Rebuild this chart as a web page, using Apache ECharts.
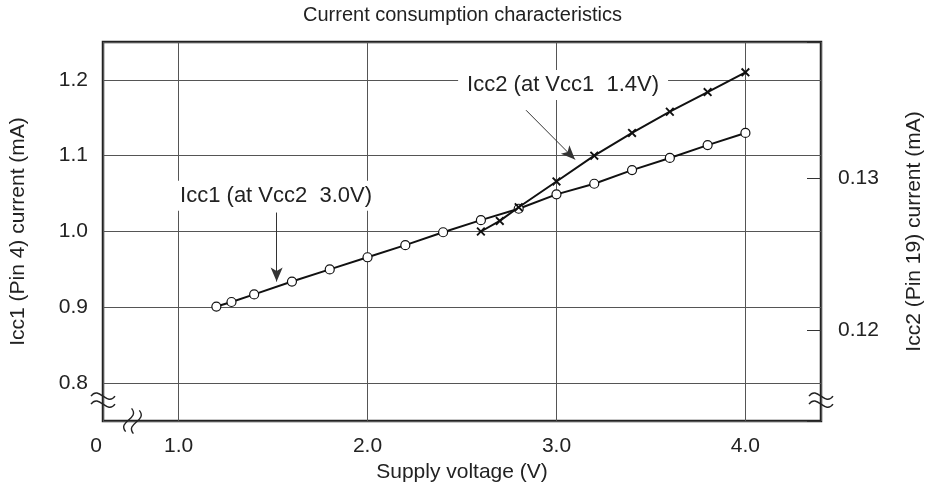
<!DOCTYPE html>
<html>
<head>
<meta charset="utf-8">
<script src="https://cdn.jsdelivr.net/npm/echarts@6/dist/echarts.min.js"></script>
<style>
  html, body { margin: 0; padding: 0; background: #fff; }
  #main { width: 925px; height: 503px; }
</style>
</head>
<body>
<div id="main"></div>
<script>
// Icc1 (at Vcc2 3.0V), left axis
var voltage1 = [1.2, 1.28, 1.4, 1.6, 1.8, 2.0, 2.2, 2.4, 2.6, 2.8, 3.0, 3.2, 3.4, 3.6, 3.8, 4.0];
var icc1 = [0.901, 0.907, 0.917, 0.934, 0.950, 0.966, 0.982, 0.999, 1.015, 1.030, 1.049, 1.063, 1.081, 1.097, 1.114, 1.130];
// Icc2 (at Vcc1 1.4V), right axis
var voltage2 = [2.6, 2.7, 2.8, 3.0, 3.2, 3.4, 3.6, 3.8, 4.0];
var icc2 = [0.1265, 0.1272, 0.1281, 0.1298, 0.1315, 0.1330, 0.1344, 0.1357, 0.1370];

var xRange = [0.6, 4.4];
var yLeftRange = [0.75, 1.25];
var yRightRange = [0.114, 0.139];

var FONT = 'Liberation Sans, Arial, sans-serif';
var INK = '#222';
var LABEL_SIZE = 21;

function pairs(xs, ys) {
  return xs.map(function (x, i) { return [x, ys[i]]; });
}
function near(a, b) { return Math.abs(a - b) < 1e-6; }

// X-shaped marker
var crossPath = 'path://M0,1.5 L1.5,0 L5,3.5 L8.5,0 L10,1.5 L6.5,5 L10,8.5 L8.5,10 L5,6.5 L1.5,10 L0,8.5 L3.5,5 Z';

var chart = echarts.init(document.getElementById('main'));

var option = {
  animation: false,
  textStyle: { fontFamily: FONT, color: INK },
  title: {
    text: 'Current consumption characteristics',
    left: 'center',
    top: 0,
    textStyle: { fontFamily: FONT, fontSize: 20, fontWeight: 'normal', color: INK }
  },
  grid: {
    left: 103, right: 104, top: 42, bottom: 82,
    outerBoundsMode: 'none',
    show: true,
    borderColor: INK,
    borderWidth: 2.5
  },
  xAxis: {
    type: 'value',
    min: xRange[0],
    max: xRange[1],
    splitNumber: 4,
    name: 'Supply voltage (V)',
    nameLocation: 'middle',
    nameGap: 41,
    nameTextStyle: { fontSize: LABEL_SIZE, color: INK },
    axisLine: { show: false },
    axisTick: { show: false },
    axisLabel: {
      fontSize: LABEL_SIZE, color: INK, margin: 15,
      formatter: function (v) {
        if (near(v, xRange[0])) return '{zero|0}';
        if (near(v, xRange[1])) return '';
        return v.toFixed(1);
      },
      rich: {
        zero: { fontSize: LABEL_SIZE, color: INK, padding: [0, 14, 0, 0] }
      }
    },
    splitLine: { show: true, lineStyle: { color: '#555', width: 1 } }
  },
  yAxis: [{
    type: 'value',
    position: 'left',
    min: yLeftRange[0],
    max: yLeftRange[1],
    splitNumber: 5,
    name: 'Icc1 (Pin 4) current (mA)',
    nameLocation: 'middle',
    nameRotate: 90,
    nameGap: 74,
    nameTextStyle: { fontSize: LABEL_SIZE, color: INK },
    axisLine: { show: false },
    axisTick: { show: false },
    axisLabel: {
      fontSize: LABEL_SIZE, color: INK, margin: 15,
      formatter: function (v) {
        if (near(v, yLeftRange[0]) || near(v, yLeftRange[1])) return '';
        return v.toFixed(1);
      }
    },
    splitLine: { show: true, lineStyle: { color: '#555', width: 1 } }
  }, {
    type: 'value',
    position: 'right',
    min: yRightRange[0],
    max: yRightRange[1],
    splitNumber: 2,
    name: 'Icc2 (Pin 19) current (mA)',
    nameLocation: 'middle',
    nameRotate: 90,
    nameGap: 83,
    nameTextStyle: { fontSize: LABEL_SIZE, color: INK },
    axisLine: { show: false },
    axisTick: { show: true, inside: true, length: 14, lineStyle: { color: '#333', width: 1 } },
    axisLabel: {
      fontSize: LABEL_SIZE, color: INK, margin: 17,
      formatter: function (v) {
        if (near(v, yRightRange[0]) || near(v, yRightRange[1])) return '';
        return v.toFixed(2);
      }
    },
    splitLine: { show: false }
  }],
  series: [{
    name: 'Icc1',
    type: 'line',
    yAxisIndex: 0,
    data: pairs(voltage1, icc1),
    symbol: 'circle',
    symbolSize: 9,
    itemStyle: { color: '#fff', borderColor: '#111', borderWidth: 1.2 },
    lineStyle: { color: '#111', width: 2 },
    z: 3,
    markLine: {
      silent: true,
      symbol: ['none', 'arrow'],
      symbolSize: [9, 14],
      label: { show: false },
      lineStyle: { color: '#333', width: 1, type: 'solid' },
      data: [
        [{ coord: [1.519, 1.025] }, { coord: [1.519, 0.934] }],
        [{ coord: [2.839, 1.160] }, { coord: [3.098, 1.095] }]
      ]
    },
    markPoint: {
      silent: true,
      symbol: 'rect',
      symbolSize: 1,
      itemStyle: { color: 'rgba(0,0,0,0)' },
      label: {
        show: true,
        position: 'inside',
        fontSize: 22,
        color: INK,
        backgroundColor: '#fff'
      },
      data: [
        { coord: [1.516, 1.047], label: { formatter: 'Icc1 (at Vcc2  3.0V)', padding: [4, 3] } },
        { coord: [3.035, 1.1934], label: { formatter: 'Icc2 (at Vcc1  1.4V)', padding: [4, 9] } }
      ]
    }
  }, {
    name: 'Icc2',
    type: 'line',
    yAxisIndex: 1,
    data: pairs(voltage2, icc2),
    symbol: crossPath,
    symbolSize: 9,
    itemStyle: { color: '#111' },
    lineStyle: { color: '#111', width: 2 },
    z: 4
  }]
};

chart.setOption(option);

// axis break marks (two wavy strokes), placed through the axes
var leftBreak = chart.convertToPixel({ xAxisIndex: 0, yAxisIndex: 0 }, [xRange[0], 0.7775]);
var rightBreak = chart.convertToPixel({ xAxisIndex: 0, yAxisIndex: 0 }, [xRange[1], 0.7775]);
var bottomBreak = chart.convertToPixel({ xAxisIndex: 0, yAxisIndex: 0 }, [0.756, yLeftRange[0]]);

function wave(dy) {
  return {
    type: 'bezierCurve',
    shape: { x1: -12, y1: dy, cpx1: -4, cpy1: dy - 11, cpx2: 4, cpy2: dy + 11, x2: 12, y2: dy },
    style: { stroke: INK, lineWidth: 1.4, fill: null }
  };
}
function breakMark(p, rot) {
  return {
    type: 'group',
    x: p[0], y: p[1],
    rotation: rot,
    z: 10,
    children: [wave(-4), wave(4)]
  };
}

chart.setOption({
  graphic: [
    breakMark(leftBreak, 0),
    breakMark(rightBreak, 0),
    breakMark(bottomBreak, Math.PI / 2 - 0.25)
  ]
});
</script>
</body>
</html>
